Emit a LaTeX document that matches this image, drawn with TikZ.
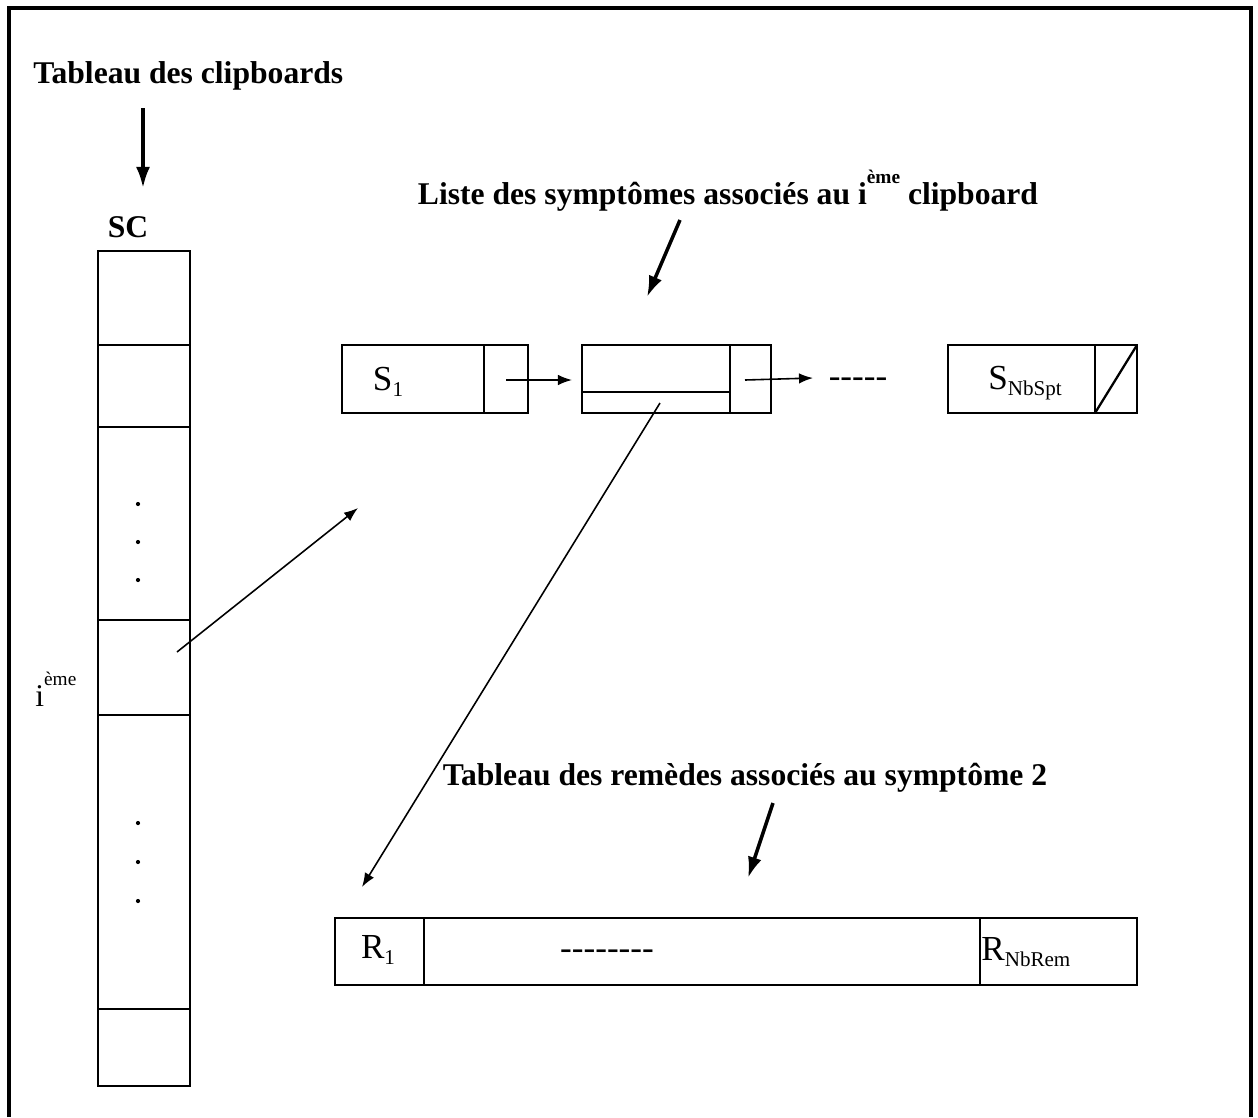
\documentclass[tikz,border=0pt]{standalone}
\usepackage{fontspec}
\setmainfont{Liberation Serif}
\usetikzlibrary{arrows.meta}
\newcommand{\lowtext}[1]{\raisebox{-0.35ex}{\fontsize{12}{12}\selectfont #1}}
\newcommand{\hightext}[1]{\raisebox{1.4ex}{\fontsize{11}{11}\selectfont #1}}
\tikzset{
  cell/.style={line width=1.3pt},
  pointer/.style={line width=2pt,-{Latex[length=12pt,width=8pt]}},
  link/.style={line width=0.9pt,-{Latex[length=8pt,width=6pt]}},
  heading/.style={font=\fontsize{18}{21}\bfseries\selectfont,inner sep=0pt},
  boxtext/.style={font=\fontsize{20}{24}\selectfont,inner sep=0pt},
}
\begin{document}
\begin{tikzpicture}[x=0.02cm,y=-0.02cm]
  \useasboundingbox (0,0) rectangle (1258,1117);
  \draw[line width=2pt] (9,1117) -- (9,8) -- (1251,8) -- (1251,1117);
  \node[heading,anchor=base west] (tabsc) at (33,83) {Tableau des clipboards};
  \node[heading,anchor=base] (sc) at (128,237) {SC};
  \node[heading,anchor=base] (liste) at (728,204)
    {Liste des symptômes associés au i\hightext{ème} clipboard};
  \node[heading,anchor=base] (tabrem) at (745,785)
    {Tableau des remèdes associés au symptôme 2};
  \draw[cell] (98,251) rectangle (190,1086);
  \foreach \y in {345,427,620,715,1009}
    \draw[cell] (98,\y) -- (190,\y);
  \foreach \y in {504,542,580,823,862,901}
    \fill (138,\y) circle (1.2pt);
  \node[font=\fontsize{18}{21}\selectfont,inner sep=0pt,anchor=base west] (ieme) at (35,706) {i\hightext{ème}};
  \draw[cell] (342,345) rectangle (528,413);
  \draw[cell] (484,345) -- (484,413);
  \draw[cell] (582,345) rectangle (771,413);
  \draw[cell] (730,345) -- (730,413);
  \draw[cell] (582,392) -- (730,392);
  \draw[cell] (948,345) rectangle (1137,413);
  \draw[cell] (1095,345) -- (1095,413);
  \draw[cell] (1095,413) -- (1137,345);
  \node[boxtext] (s1) at (388,382) {S\lowtext{1}};
  \node[boxtext] (etc1) at (858,383) {{-}{-}{-}{-}{-}};
  \node[boxtext] (sn) at (1025,383) {S\lowtext{NbSpt}};
  \draw[cell] (335,918) rectangle (1137,985);
  \draw[cell] (424,918) -- (424,985);
  \draw[cell] (980,918) -- (980,985);
  \node[boxtext] (r1) at (378,950) {R\lowtext{1}};
  \node[boxtext] (etc2) at (607,955) {{-}{-}{-}{-}{-}{-}{-}{-}};
  \node[boxtext,anchor=west] (rn) at (981,952) {R\lowtext{NbRem}};
  \coordinate (sctop) at (143,108);
  \coordinate (scin) at (143,188);
  \coordinate (listetop) at (680,220);
  \coordinate (listein) at (647,297);
  \coordinate (remtop) at (773,803);
  \coordinate (remin) at (748,878);
  \coordinate (cellout) at (177,652);
  \coordinate (s1in) at (358,508);
  \coordinate (s1out) at (506,380);
  \coordinate (s2in) at (572,380);
  \coordinate (s2out) at (745,380);
  \coordinate (s2next) at (813,378);
  \coordinate (s2rem) at (660,403);
  \coordinate (r1in) at (362,887);
  \draw[pointer] (sctop) -- (scin);
  \draw[pointer] (listetop) -- (listein);
  \draw[pointer] (remtop) -- (remin);
  \begin{scope}[link]
    \draw (cellout) -- (s1in);
    \draw (s1out) -- (s2in);
    \draw (s2out) -- (s2next);
    \draw (s2rem) -- (r1in);
  \end{scope}
\end{tikzpicture}
\end{document}
